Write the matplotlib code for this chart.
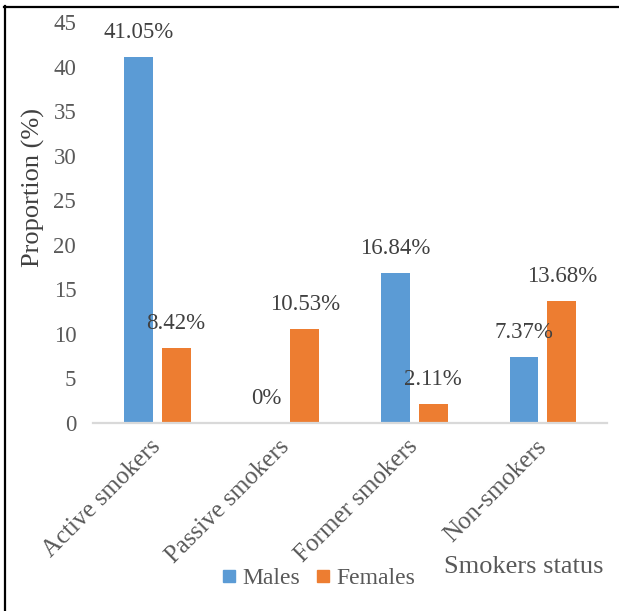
import matplotlib
matplotlib.use("Agg")
import matplotlib.pyplot as plt
from matplotlib.lines import Line2D
import numpy as np

# smoking status by sex, percent
categories = ["Active smokers", "Passive smokers", "Former smokers", "Non-smokers"]
males = [41.05, 0, 16.84, 7.37]
females = [8.42, 10.53, 2.11, 13.68]
y_ticks = [0, 5, 10, 15, 20, 25, 30, 35, 40, 45]

BLUE = "#5B9BD5"
ORANGE = "#ED7D31"
TXT = "#404040"
TICK = "#595959"

plt.rcParams["font.family"] = "serif"
plt.rcParams["font.serif"] = ["Liberation Serif"]

fig = plt.figure(figsize=(6.19, 6.11), dpi=100)
ax = fig.add_axes([0.150, 0.308, 0.831, 0.656])

x = np.arange(len(categories))
w = 0.225
off = 0.1475
b1 = ax.bar(x - off, males, w, color=BLUE)
b2 = ax.bar(x + off, females, w, color=ORANGE)

# value labels above each bar
for bars, vals in ((b1, males), (b2, females)):
    for r, v in zip(bars, vals):
        txt = f"{v:g}%"
        ax.annotate(txt, (r.get_x() + r.get_width() / 2, v), xytext=(0, 17.5),
                    textcoords="offset points", ha="center", va="center",
                    fontsize=16.5, color=TXT)

ax.set_xlim(-0.5, len(categories) - 0.5)
ax.set_ylim(0, 45)
ax.set_yticks(y_ticks)
ax.set_xticks(x)
ax.set_xticklabels(categories, rotation=45, ha="right", va="center",
                   rotation_mode="anchor", fontsize=18, color=TICK)
ax.tick_params(axis="x", length=0, pad=15)
ax.tick_params(axis="y", length=0, pad=12, labelsize=16.5, labelcolor=TICK)

for s in ("top", "right", "left"):
    ax.spines[s].set_visible(False)
ax.spines["bottom"].set_color("#D9D9D9")
ax.spines["bottom"].set_linewidth(1.6)

ax.set_ylabel("Proportion (%)", fontsize=19, color=TXT)
ax.yaxis.set_label_coords(-0.093, 0.586)

fig.text(524 / 619, 1 - 567 / 611, "Smokers status", ha="center", va="center",
         fontsize=19, color=TICK)

handles = [Line2D([], [], marker="s", linestyle="none", markersize=9,
                  markerfacecolor=c, markeredgecolor=c) for c in (BLUE, ORANGE)]
fig.legend(handles, ["Males", "Females"], loc="center",
           bbox_to_anchor=(318 / 619, 1 - 578 / 611), ncol=2, frameon=False,
           fontsize=17, handlelength=0.7, handletextpad=0.2, columnspacing=0.65,
           labelcolor=TICK)

# frame edges along the left and top of the figure
fig.add_artist(Line2D([5 / 619, 5 / 619], [0, 1 - 6 / 611], color="black", lw=1.6))
fig.add_artist(Line2D([4 / 619, 1], [1 - 7 / 611, 1 - 7 / 611], color="black", lw=1.6))

fig.savefig("out.png", dpi=100)
